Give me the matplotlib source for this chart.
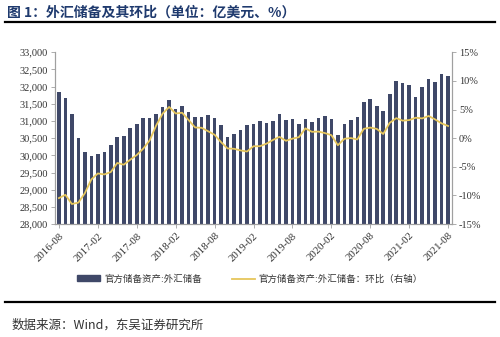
import numpy as np
import matplotlib.pyplot as plt
from matplotlib.patches import Patch
from matplotlib.lines import Line2D

plt.rcParams['font.family'] = ['Noto Sans CJK SC', 'DejaVu Sans']

# monthly data, 2016-08 .. 2021-08
months = ['2016-08', '2016-09', '2016-10', '2016-11', '2016-12',
          '2017-01', '2017-02', '2017-03', '2017-04', '2017-05', '2017-06',
          '2017-07', '2017-08', '2017-09', '2017-10', '2017-11', '2017-12',
          '2018-01', '2018-02', '2018-03', '2018-04', '2018-05', '2018-06',
          '2018-07', '2018-08', '2018-09', '2018-10', '2018-11', '2018-12',
          '2019-01', '2019-02', '2019-03', '2019-04', '2019-05', '2019-06',
          '2019-07', '2019-08', '2019-09', '2019-10', '2019-11', '2019-12',
          '2020-01', '2020-02', '2020-03', '2020-04', '2020-05', '2020-06',
          '2020-07', '2020-08', '2020-09', '2020-10', '2020-11', '2020-12',
          '2021-01', '2021-02', '2021-03', '2021-04', '2021-05', '2021-06',
          '2021-07', '2021-08']

# foreign exchange reserves, 100 million USD
reserves = [31852, 31664, 31206, 30516, 30105,
            29982, 30051, 30091, 30295, 30536, 30568,
            30807, 30915, 31085, 31092, 31193, 31399,
            31615, 31345, 31428, 31249, 31106, 31121,
            31179, 31097, 30870, 30531, 30617, 30727,
            30879, 30902, 30988, 30950, 31010, 31192,
            31037, 31072, 30924, 31052, 30956, 31079,
            31155, 31067, 30606, 30915, 31017, 31123,
            31544, 31646, 31426, 31280, 31785, 32165,
            32107, 32050, 31700, 31982, 32218, 32140,
            32359, 32321]

# change, %
change = [-10.46, -9.89, -11.49, -11.25, -9.61,
          -7.20, -6.16, -6.33, -5.91, -4.33, -4.63,
          -3.76, -2.94, -1.83, -0.37, 2.22, 4.30,
          5.45, 4.31, 4.44, 3.15, 1.87, 1.81,
          1.21, 0.59, -0.69, -1.80, -1.85, -2.14,
          -2.33, -1.41, -1.40, -0.96, -0.31, 0.23,
          -0.46, -0.08, 0.17, 1.71, 1.11, 1.15,
          0.89, 0.53, -1.23, -0.11, 0.02, -0.22,
          1.63, 1.85, 1.62, 0.73, 2.68, 3.49,
          3.06, 3.16, 3.57, 3.45, 3.87, 3.27,
          2.58, 2.13]

bar_color = '#3f4868'
line_color = '#e6c65c'
axis_color = '#a0a0a0'
serif = 'Liberation Serif'

fig = plt.figure(figsize=(5.0, 3.37), dpi=100)
ax = fig.add_axes([0.11, 0.335, 0.794, 0.51])
ax2 = ax.twinx()

x = np.arange(len(months))
ax.bar(x, reserves, width=0.55, color=bar_color, zorder=2)
ax.set_ylim(28000, 33000)
ax.set_yticks(np.arange(28000, 33001, 500))
ax.set_yticklabels([f'{v:,}' for v in range(28000, 33001, 500)],
                   fontfamily=serif, fontsize=7.5)
ax.set_xlim(-0.6, len(months) - 0.4)

tick_idx = list(range(0, len(months), 6))
ax.set_xticks(tick_idx)
ax.set_xticklabels([months[i] for i in tick_idx], rotation=45,
                   ha='right', rotation_mode='anchor',
                   fontfamily=serif, fontsize=7.8)

ax2.plot(x, change, color=line_color, lw=1.3, zorder=3)
ax2.set_ylim(-15, 15)
ax2.set_yticks(np.arange(-15, 16, 5))
ax2.set_yticklabels([f'{v}%' for v in range(-15, 16, 5)],
                    fontfamily=serif, fontsize=7.5)

for a in (ax, ax2):
    a.spines['top'].set_visible(False)
    for s in ('left', 'right', 'bottom'):
        a.spines[s].set_color(axis_color)
        a.spines[s].set_linewidth(0.8)
    a.tick_params(colors='#333333', length=3, width=0.6, pad=2)
ax.tick_params(axis='x', color=axis_color, length=3)
ax.tick_params(axis='y', color=axis_color)
ax2.tick_params(axis='y', color=axis_color)

# legend
handles = [Patch(color=bar_color, label='官方储备资产:外汇储备'),
           Line2D([], [], color=line_color, lw=1.3,
                  label='官方储备资产:外汇储备：环比（右轴）')]
fig.legend(handles=handles, loc='center', bbox_to_anchor=(0.5, 0.172),
           ncol=2, frameon=False, fontsize=6.8, handlelength=2.4,
           handleheight=0.6, handletextpad=0.4, columnspacing=3.2,
           labelcolor='#333333')

# title and rules
fig.text(0.014, 0.962, '图 1：外汇储备及其环比（单位：亿美元、%）',
         fontsize=10, fontweight='bold', color='#1f3a6e', va='center')
fig.add_artist(Line2D([0.01, 0.99], [0.935, 0.935], color='black', lw=1.6))
fig.add_artist(Line2D([0.01, 0.99], [0.105, 0.105], color='black', lw=1.6))
fig.text(0.024, 0.035, '数据来源：Wind，东吴证券研究所', fontsize=9,
         color='#333333', va='center')

fig.savefig('out.png', dpi=100)
